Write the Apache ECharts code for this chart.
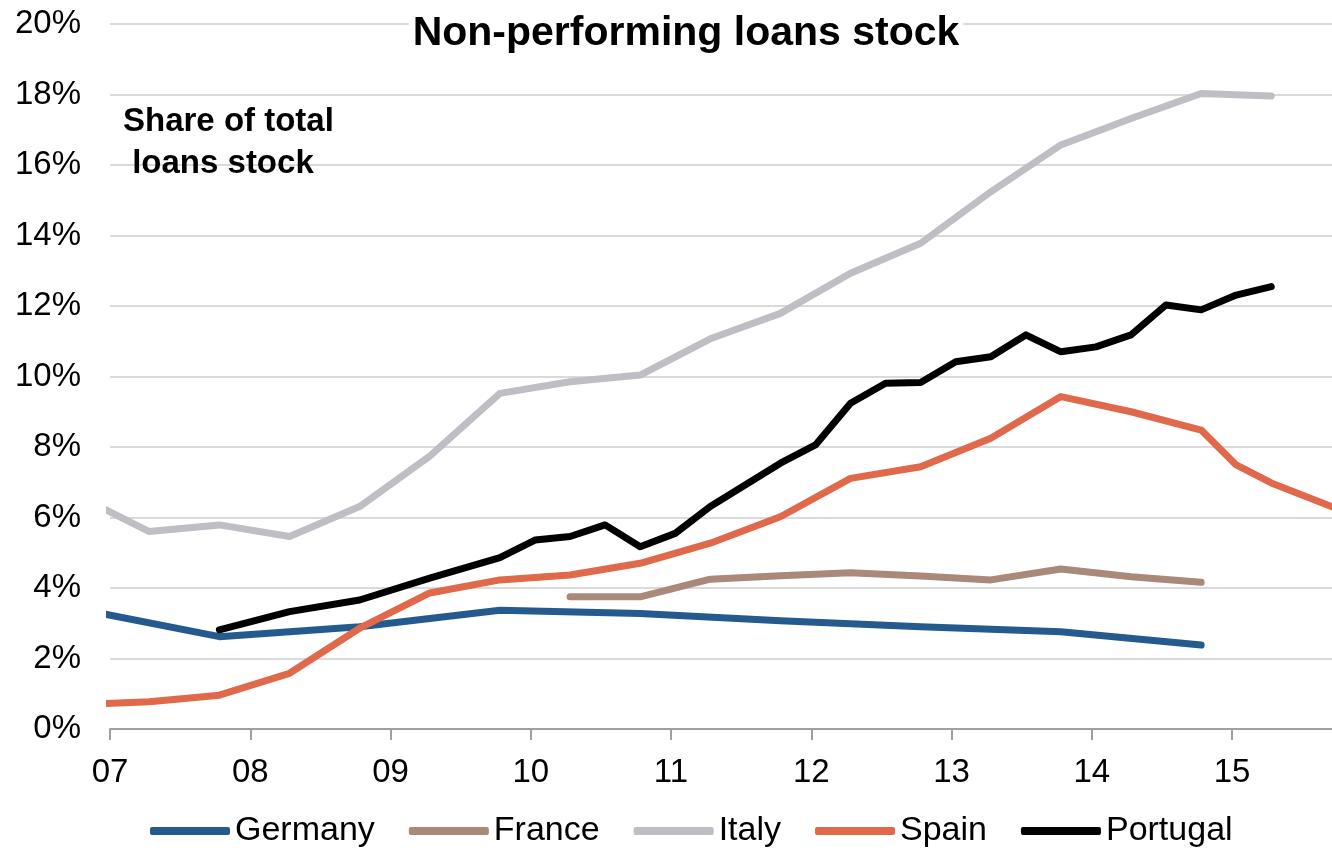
<!DOCTYPE html>
<html>
<head>
<meta charset="utf-8">
<script src="https://cdn.jsdelivr.net/npm/echarts@6/dist/echarts.min.js"></script>
<style>
html,body{margin:0;padding:0;background:#fff;}
#c{width:1332px;height:852px;}
</style>
</head>
<body>
<div id="c"></div>
<script>
// Quarterly positions (fractional year, 2-digit year labels)
const dates = [6.78, 7.03, 7.28, 7.53, 7.78, 8.03, 8.28, 8.53, 8.78, 9.03, 9.28, 9.53,
  9.78, 10.03, 10.28, 10.53, 10.78, 11.03, 11.28, 11.53, 11.78, 12.03, 12.28, 12.53,
  12.78, 13.03, 13.28, 13.53, 13.78, 14.03, 14.28, 14.53, 14.78, 15.03, 15.28, 15.53, 15.78];

const germany = [3.40, null, null, null, 2.62, null, null, null, 2.90, null, null, null,
  3.37, null, null, null, 3.28, null, null, null, 3.07, null, null, null,
  2.90, null, null, null, 2.76, null, null, null, 2.38, null, null, null, null];

const france = [null, null, null, null, null, null, null, null, null, null, null, null,
  null, null, 3.75, null, 3.75, null, 4.25, null, 4.35, null, 4.43, null,
  4.34, null, 4.23, null, 4.54, null, 4.32, null, 4.16, null, null, null, null];

const italy = [6.60, null, 5.60, null, 5.79, null, 5.46, null, 6.31, null, 7.74, null,
  9.52, null, 9.85, null, 10.04, null, 11.07, null, 11.79, null, 12.93, null,
  13.78, null, 15.24, null, 16.57, null, 17.32, null, 18.03, null, 17.96, null, null];

const spain = [0.70, null, 0.77, null, 0.96, null, 1.58, null, 2.86, null, 3.86, null,
  4.23, null, 4.37, null, 4.70, null, 5.27, null, 6.02, null, 7.11, null,
  7.44, null, 8.25, null, 9.43, null, 9.00, null, 8.48, 7.49, 6.98, null, 6.20];

const portugal = [null, null, null, null, 2.81, null, 3.33, null, 3.66, null, 4.28, null,
  4.86, 5.36, 5.46, 5.79, 5.17, 5.55, 6.31, null, 7.54, 8.06, 9.24, 9.81,
  9.83, 10.42, 10.56, 11.18, 10.70, 10.84, 11.18, 12.03, 11.89, 12.31, 12.55, null, null];

const seriesNames = ['Germany', 'France', 'Italy', 'Spain', 'Portugal'];
const seriesValues = [germany, france, italy, spain, portugal];
const colors = ['#245a8e', '#aa887a', '#bebfc4', '#e0694b', '#000000'];

const yTicks = [0, 2, 4, 6, 8, 10, 12, 14, 16, 18, 20];
const xTicks = ['07', '08', '09', '10', '11', '12', '13', '14', '15'];

const FONT = "'Liberation Sans', Arial, sans-serif";

const chart = echarts.init(document.getElementById('c'), null, {renderer: 'canvas'});

const series = seriesNames.map((name, k) => ({
  name: name,
  type: 'line',
  showSymbol: false,
  symbol: 'none',
  clip: true,
  connectNulls: true,
  lineStyle: {color: colors[k], width: 7, cap: 'round', join: 'round'},
  itemStyle: {color: colors[k]},
  data: dates.map((d, i) => [d, seriesValues[k][i]]).filter(p => p[1] !== null),
  z: 2 + k
}));

chart.setOption({
  animation: false,
  backgroundColor: '#ffffff',
  color: colors,
  title: [{
    text: 'Non-performing loans stock',
    left: 682, top: 9, textAlign: 'center',
    backgroundColor: '#ffffff',
    padding: [4, 4, 4, 4],
    textStyle: {fontFamily: FONT, fontWeight: 'bold', fontSize: 41, color: '#000'}
  }, {
    text: 'Share of total\n loans stock',
    left: 118, top: 96,
    textStyle: {fontFamily: FONT, fontWeight: 'bold', fontSize: 33, color: '#000', lineHeight: 42}
  }],
  legend: {
    data: seriesNames,
    top: 809,
    left: 145,
    icon: 'roundRect',
    itemWidth: 80,
    itemHeight: 8,
    itemGap: 34,
    textStyle: {fontFamily: FONT, fontSize: 34, color: '#000'}
  },
  grid: {left: 110, right: 0, top: 24, bottom: 123, containLabel: false},
  xAxis: {
    type: 'value',
    min: 7,
    max: 15.713,
    interval: 1,
    axisLine: {show: true, lineStyle: {color: '#a0a0a0', width: 2}},
    axisTick: {show: true, length: 11, lineStyle: {color: '#a0a0a0', width: 2}},
    splitLine: {show: false},
    axisLabel: {
      showMaxLabel: false,
      margin: 27,
      fontFamily: FONT, fontSize: 33, color: '#000',
      formatter: v => {
        const idx = Math.round(v) - 7;
        return (Math.abs(v - Math.round(v)) < 1e-6 && xTicks[idx]) ? xTicks[idx] : '';
      }
    }
  },
  yAxis: {
    type: 'value',
    min: 0, max: 20, interval: 2,
    axisLine: {show: false},
    axisTick: {show: false},
    splitLine: {show: true, lineStyle: {color: '#dadada', width: 2}},
    axisLabel: {
      margin: 29,
      fontFamily: FONT, fontSize: 33, color: '#000',
      formatter: v => (yTicks.indexOf(v) >= 0 ? v + '%' : '')
    }
  },
  series: series
});
</script>
</body>
</html>
